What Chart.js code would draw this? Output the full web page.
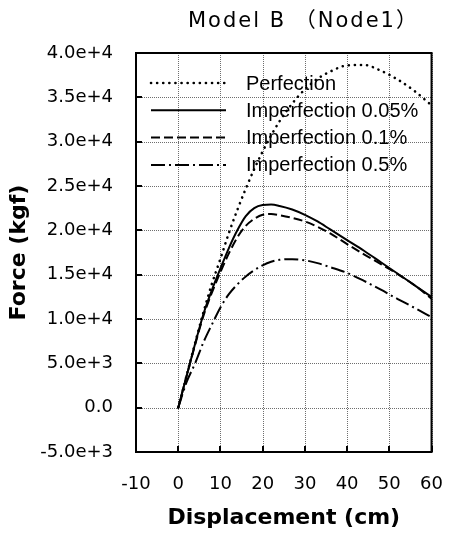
<!DOCTYPE html>
<html>
<head>
<meta charset="utf-8">
<title>Model B (Node1)</title>
<script src="https://cdn.jsdelivr.net/npm/chart.js@4.4.0/dist/chart.umd.min.js"></script>
<style>
  html, body { margin: 0; padding: 0; background: #fff; }
  #forceChart { display: block; }
</style>
</head>
<body>
<canvas id="forceChart" width="457" height="538"></canvas>
<script>
/******************************************************************
DATA - displacement (cm) vs force (kgf), Model B node 1
******************************************************************/

var displacement = [0, 2, 4, 6, 8, 10, 12, 14, 16, 18, 20, 22, 24, 27, 30, 33, 36, 40, 44, 48, 52, 56, 60];

var perfection = [0, 3650, 7300, 10800, 14000, 16800, 19700, 22300, 24700, 26900, 28900, 30700, 32300, 34300, 35900, 37100, 37900, 38600, 38650, 38000, 37000, 35700, 34100];
var imperf005  = [0, 3600, 7200, 10600, 13300, 15700, 18000, 20000, 21600, 22500, 22850, 22900, 22750, 22350, 21750, 21000, 20100, 18900, 17700, 16400, 15100, 13800, 12500];
var imperf01   = [0, 3600, 7100, 10400, 13000, 15300, 17400, 19200, 20500, 21300, 21750, 21850, 21700, 21400, 21000, 20400, 19650, 18450, 17300, 16200, 15050, 13800, 12300];
var imperf05   = [0, 2900, 5000, 7400, 9400, 11300, 12800, 13900, 14800, 15500, 16050, 16450, 16680, 16750, 16620, 16300, 15850, 15200, 14300, 13300, 12250, 11250, 10200];

var seriesNames = ["Perfection", "Imperfection 0.05%", "Imperfection 0.1%", "Imperfection 0.5%"];

var dispTicks = [-10, 0, 10, 20, 30, 40, 50, 60];
var forceTicks = [-5000, 0, 5000, 10000, 15000, 20000, 25000, 30000, 35000, 40000];
var forceTickLabels = ["-5.0e+3", "0.0", "5.0e+3", "1.0e+4", "1.5e+4", "2.0e+4", "2.5e+4", "3.0e+4", "3.5e+4", "4.0e+4"];


function toPoints(forces) {
  return displacement.map(function (d, i) {
    return { x: d, y: forces[i] };
  });
}

function curve(label, forces, dash, width, cap) {
  return {
    label: label,
    data: toPoints(forces),
    borderColor: "#000",
    backgroundColor: "#000",
    borderWidth: width,
    borderDash: dash,
    borderCapStyle: cap || "butt",
    pointRadius: 0,
    fill: false,
    cubicInterpolationMode: "monotone"
  };
}


/******************************************************************
PLUGINS - heading, dotted grid, frame with inner ticks, line key
******************************************************************/

var heading = {
  id: "heading",
  afterDraw: function (chart) {
    var ctx = chart.ctx;
    ctx.save();
    ctx.font = '21px "DejaVu Sans", "Noto Sans CJK KR", sans-serif';
    ctx.letterSpacing = "2px";
    ctx.fillStyle = "#000";
    ctx.textBaseline = "middle";
    ctx.textAlign = "left";
    ctx.fillText("Model B （Node1）", 188, 22);
    ctx.restore();
  }
};

// dotted grid at every tick of both scales, one pixel dot every 2px
var dottedGrid = {
  id: "dottedGrid",
  beforeDatasetsDraw: function (chart) {
    var ctx = chart.ctx;
    var a = chart.chartArea;
    var p;
    ctx.save();
    ctx.fillStyle = "#6e6e6e";
    chart.scales.x.ticks.forEach(function (t) {
      var px = Math.round(chart.scales.x.getPixelForValue(t.value));
      for (p = Math.round(a.top); p < a.bottom; p += 2) {
        ctx.fillRect(px, p, 1, 1);
      }
    });
    chart.scales.y.ticks.forEach(function (t) {
      var py = Math.round(chart.scales.y.getPixelForValue(t.value));
      for (p = Math.round(a.left); p < a.right; p += 2) {
        ctx.fillRect(p, py, 1, 1);
      }
    });
    ctx.restore();
  }
};

var frame = {
  id: "frame",
  afterDatasetsDraw: function (chart) {
    var ctx = chart.ctx;
    var a = chart.chartArea;
    ctx.save();
    ctx.strokeStyle = "#000";
    ctx.setLineDash([]);
    ctx.lineWidth = 2;
    ctx.strokeRect(a.left, a.top, a.right - a.left, a.bottom - a.top);

    // short ticks pointing into the plot
    ctx.beginPath();
    chart.scales.x.ticks.forEach(function (t) {
      var px = Math.round(chart.scales.x.getPixelForValue(t.value));
      ctx.moveTo(px, a.bottom);
      ctx.lineTo(px, a.bottom - 6);
    });
    chart.scales.y.ticks.forEach(function (t) {
      var py = Math.round(chart.scales.y.getPixelForValue(t.value));
      ctx.moveTo(a.left, py);
      ctx.lineTo(a.left + 6, py);
    });
    ctx.stroke();
    ctx.restore();
  }
};

var lineKey = {
  id: "lineKey",
  afterDatasetsDraw: function (chart) {
    var ctx = chart.ctx;
    var a = chart.chartArea;
    ctx.save();
    ctx.font = '20px "Liberation Sans", Arial, sans-serif';
    ctx.textBaseline = "middle";
    ctx.textAlign = "left";
    ctx.fillStyle = "#000";
    chart.data.datasets.forEach(function (ds, i) {
      var y = a.top + 30 + i * 27.3;
      ctx.strokeStyle = ds.borderColor;
      ctx.lineWidth = ds.borderWidth;
      ctx.lineCap = ds.borderCapStyle;
      ctx.setLineDash(ds.borderDash);
      ctx.beginPath();
      ctx.moveTo(a.left + 15, y);
      ctx.lineTo(a.left + 90, y);
      ctx.stroke();
      ctx.fillText(ds.label, a.left + 110, y + 1);
    });
    ctx.restore();
  }
};


/******************************************************************
CHART
******************************************************************/

var tickFont = { family: "DejaVu Sans", size: 18 };
var titleFont = { family: "DejaVu Sans", size: 22, weight: "bold" };

var forceChart = new Chart(document.getElementById("forceChart").getContext("2d"), {
  type: "line",
  data: {
    datasets: [
      curve(seriesNames[0], perfection, [0.1, 6], 2.6, "round"),
      curve(seriesNames[1], imperf005, [], 2),
      curve(seriesNames[2], imperf01, [9, 4], 2),
      curve(seriesNames[3], imperf05, [14, 4, 2, 4], 2)
    ]
  },
  options: {
    responsive: false,
    animation: false,
    devicePixelRatio: 1,
    layout: { padding: { top: 53, right: 14, left: 0, bottom: 0 } },
    plugins: {
      legend: { display: false },
      tooltip: { enabled: false }
    },
    scales: {
      x: {
        type: "linear",
        min: -10,
        max: 60,
        afterBuildTicks: function (scale) {
          scale.ticks = dispTicks.map(function (v) { return { value: v }; });
        },
        afterFit: function (scale) { scale.height = 86; },
        ticks: { color: "#000", font: tickFont, padding: 14, maxRotation: 0 },
        grid: { display: false },
        border: { display: false },
        title: { display: true, text: "Displacement (cm)", color: "#000", font: titleFont, padding: { top: 0, bottom: 7 } }
      },
      y: {
        type: "linear",
        min: -5000,
        max: 40000,
        afterBuildTicks: function (scale) {
          scale.ticks = forceTicks.map(function (v) { return { value: v }; });
        },
        afterFit: function (scale) { scale.width = 136; },
        ticks: {
          color: "#000",
          font: tickFont,
          padding: 15,
          callback: function (value) {
            var i = forceTicks.indexOf(value);
            return i > -1 ? forceTickLabels[i] : "";
          }
        },
        grid: { display: false },
        border: { display: false },
        title: { display: true, text: "Force (kgf)", color: "#000", font: titleFont, padding: { top: 6, bottom: 0 } }
      }
    }
  },
  plugins: [dottedGrid, frame, lineKey, heading]
});
</script>
</body>
</html>
